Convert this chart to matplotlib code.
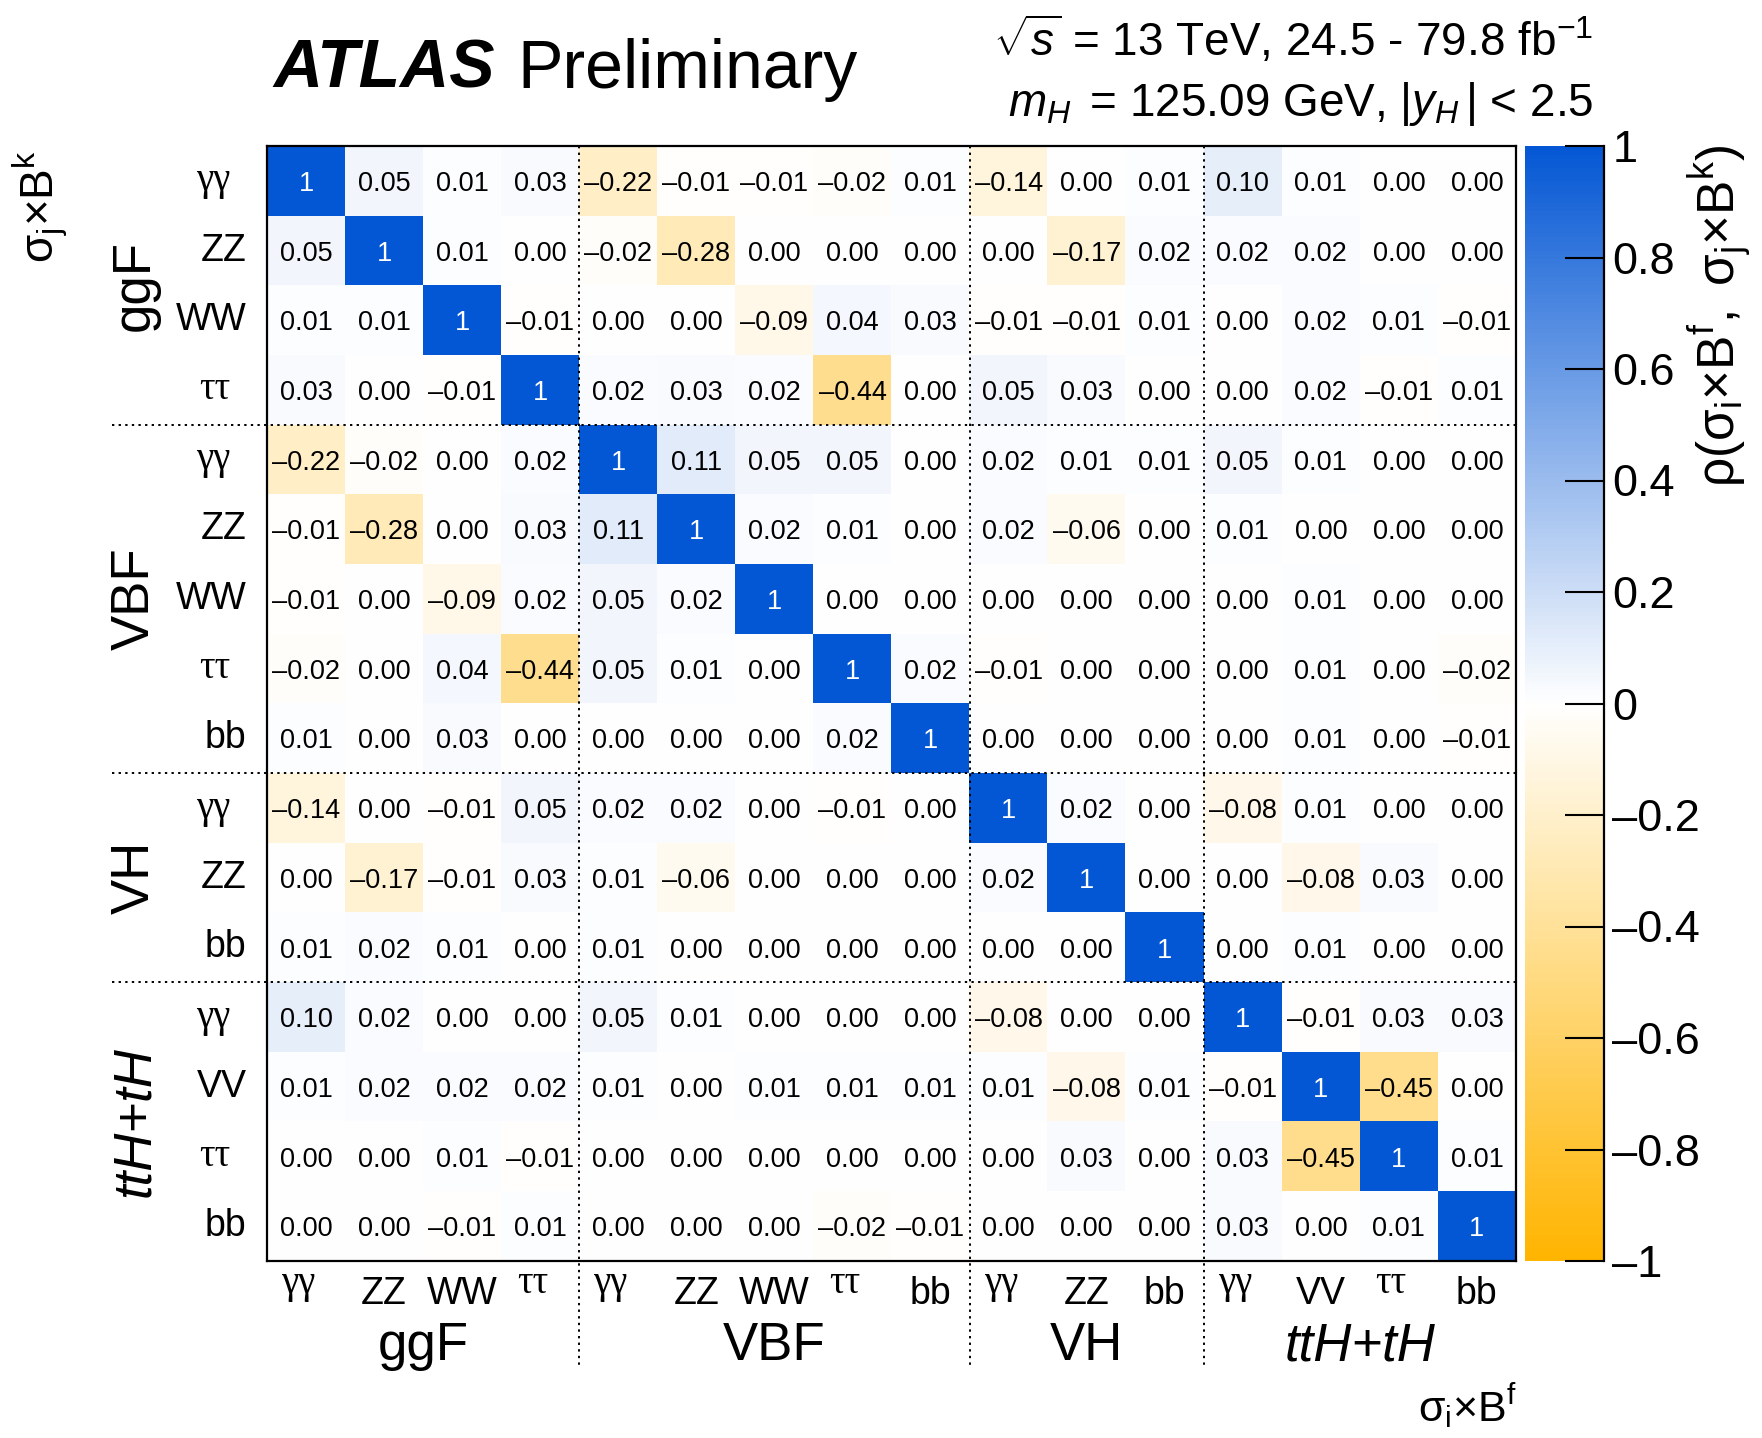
import matplotlib
matplotlib.use("Agg")
import matplotlib.pyplot as plt
import numpy as np
from matplotlib.colors import LinearSegmentedColormap, Normalize
from matplotlib.ticker import FuncFormatter

plt.rcParams["font.family"] = ["Liberation Sans", "DejaVu Sans"]
plt.rcParams["mathtext.fontset"] = "custom"
plt.rcParams["mathtext.rm"] = "Liberation Sans"
plt.rcParams["mathtext.it"] = "Liberation Sans:italic"
plt.rcParams["mathtext.bf"] = "Liberation Sans:bold"
plt.rcParams["mathtext.sf"] = "Liberation Sans"

# Production modes and decay channels (rows = columns)
groups = ["ggF", "VBF", "VH", "ttH+tH"]
ggf_channels = ["γγ", "ZZ", "WW", "ττ"]
vbf_channels = ["γγ", "ZZ", "WW", "ττ", "bb"]
vh_channels = ["γγ", "ZZ", "bb"]
tth_channels = ["γγ", "VV", "ττ", "bb"]
channels = [ggf_channels, vbf_channels, vh_channels, tth_channels]
labels = [c for g in channels for c in g]

# Correlation coefficients rho(sigma_i x B^f, sigma_j x B^k)
corr = np.array([
    [1, 0.05, 0.01, 0.03, -0.22, -0.01, -0.01, -0.02, 0.01, -0.14, 0.00, 0.01, 0.10, 0.01, 0.00, 0.00],
    [0.05, 1, 0.01, 0.00, -0.02, -0.28, 0.00, 0.00, 0.00, 0.00, -0.17, 0.02, 0.02, 0.02, 0.00, 0.00],
    [0.01, 0.01, 1, -0.01, 0.00, 0.00, -0.09, 0.04, 0.03, -0.01, -0.01, 0.01, 0.00, 0.02, 0.01, -0.01],
    [0.03, 0.00, -0.01, 1, 0.02, 0.03, 0.02, -0.44, 0.00, 0.05, 0.03, 0.00, 0.00, 0.02, -0.01, 0.01],
    [-0.22, -0.02, 0.00, 0.02, 1, 0.11, 0.05, 0.05, 0.00, 0.02, 0.01, 0.01, 0.05, 0.01, 0.00, 0.00],
    [-0.01, -0.28, 0.00, 0.03, 0.11, 1, 0.02, 0.01, 0.00, 0.02, -0.06, 0.00, 0.01, 0.00, 0.00, 0.00],
    [-0.01, 0.00, -0.09, 0.02, 0.05, 0.02, 1, 0.00, 0.00, 0.00, 0.00, 0.00, 0.00, 0.01, 0.00, 0.00],
    [-0.02, 0.00, 0.04, -0.44, 0.05, 0.01, 0.00, 1, 0.02, -0.01, 0.00, 0.00, 0.00, 0.01, 0.00, -0.02],
    [0.01, 0.00, 0.03, 0.00, 0.00, 0.00, 0.00, 0.02, 1, 0.00, 0.00, 0.00, 0.00, 0.01, 0.00, -0.01],
    [-0.14, 0.00, -0.01, 0.05, 0.02, 0.02, 0.00, -0.01, 0.00, 1, 0.02, 0.00, -0.08, 0.01, 0.00, 0.00],
    [0.00, -0.17, -0.01, 0.03, 0.01, -0.06, 0.00, 0.00, 0.00, 0.02, 1, 0.00, 0.00, -0.08, 0.03, 0.00],
    [0.01, 0.02, 0.01, 0.00, 0.01, 0.00, 0.00, 0.00, 0.00, 0.00, 0.00, 1, 0.00, 0.01, 0.00, 0.00],
    [0.10, 0.02, 0.00, 0.00, 0.05, 0.01, 0.00, 0.00, 0.00, -0.08, 0.00, 0.00, 1, -0.01, 0.03, 0.03],
    [0.01, 0.02, 0.02, 0.02, 0.01, 0.00, 0.01, 0.01, 0.01, 0.01, -0.08, 0.01, -0.01, 1, -0.45, 0.00],
    [0.00, 0.00, 0.01, -0.01, 0.00, 0.00, 0.00, 0.00, 0.00, 0.00, 0.03, 0.00, 0.03, -0.45, 1, 0.01],
    [0.00, 0.00, -0.01, 0.01, 0.00, 0.00, 0.00, -0.02, -0.01, 0.00, 0.00, 0.00, 0.03, 0.00, 0.01, 1],
])
cbar_ticks = [-1, -0.8, -0.6, -0.4, -0.2, 0, 0.2, 0.4, 0.6, 0.8, 1]

W, H = 1762, 1438
fig = plt.figure(figsize=(W / 100, H / 100), dpi=100)


def fx(px):
    return px / W


def fy(py):
    return 1 - py / H


ax = fig.add_axes([fx(267), fy(1261), (1516 - 267) / W, (1261 - 146) / H])
cax = fig.add_axes([fx(1525), fy(1261), (1604 - 1525) / W, (1261 - 146) / H])

cmap = LinearSegmentedColormap.from_list(
    "orange_white_blue", ["#FFB400", "#FFFFFF", "#0457D4"])
norm = Normalize(vmin=-1, vmax=1)

n = len(labels)
im = ax.imshow(corr, cmap=cmap, norm=norm, aspect="auto", interpolation="nearest")
ax.set_xlim(-0.5, n - 0.5)
ax.set_ylim(n - 0.5, -0.5)
ax.set_xticks([])
ax.set_yticks([])
for s in ax.spines.values():
    s.set_linewidth(1.6)

# Cell values
for i in range(n):
    for j in range(n):
        v = corr[i, j]
        txt = "1" if i == j else f"{v:.2f}".replace("-", "\u2013")
        ax.text(j, i + 0.045, txt, ha="center", va="center", fontsize=19.5,
                color="white" if i == j else "black")

# Channel labels on both axes
greek = {"γγ", "ττ"}
serif = ["Liberation Serif", "DejaVu Serif"]
for k, lab in enumerate(labels):
    if lab in greek:
        ax.text(-0.97, k, lab, ha="right", va="center", fontsize=28,
                family=serif)
        ax.text(k - 0.1, 15.56, lab, ha="center", va="top", fontsize=28,
                family=serif)
    else:
        ax.text(-0.76, k, lab, ha="right", va="center", fontsize=27)
        ax.text(k, 15.71, lab, ha="center", va="top", fontsize=27)

# Group separators and group names
bounds = np.cumsum([len(c) for c in channels])
starts = np.concatenate([[0], bounds[:-1]])
dot = (0, (1.2, 2.2))
for b in bounds[:-1]:
    ax.plot([-2.49, n - 0.5], [b - 0.5, b - 0.5], color="black", lw=1.4,
            ls=dot, clip_on=False)
    ax.plot([b - 0.5, b - 0.5], [-0.5, 16.99], color="black", lw=1.4,
            ls=dot, clip_on=False)

for g, s0, b in zip(groups, starts, bounds):
    c = (s0 + b - 1) / 2
    style = "italic" if g.startswith("tt") else "normal"
    ax.text(c, 16.72, g, ha="center", va="center", fontsize=38,
            fontstyle=style, clip_on=False)
    ax.text(-2.19, c, g, ha="center", va="center", fontsize=38,
            rotation=90, fontstyle=style, clip_on=False)

# Colour scale
cb = fig.colorbar(im, cax=cax, ticks=cbar_ticks)
cb.outline.set_visible(False)
cax.yaxis.set_major_formatter(
    FuncFormatter(lambda v, p: f"{round(v, 1):g}".replace("-", "\u2013")))
cax.tick_params(axis="y", direction="in", length=28, width=1.5,
                labelsize=32.5, pad=6, right=True, left=False)
cax.plot([1, 1], [0, 1], transform=cax.transAxes, color="black", lw=1.6,
         clip_on=False)
fig.text(fx(1720), fy(144),
         r"$\mathrm{\rho(\sigma_{i}{\times}B^{f},\ \sigma_{j}{\times}B^{k})}$",
         rotation=90, ha="center", va="top", fontsize=37)

# Axis titles
fig.text(fx(40), fy(150), r"$\mathrm{\sigma_{j}{\times}B^{k}}$",
         rotation=90, ha="center", va="top", fontsize=33)
fig.text(fx(1517), fy(1422), r"$\mathrm{\sigma_{i}{\times}B^{f}}$",
         ha="right", va="baseline", fontsize=31)

# Header
t1 = fig.text(fx(273), fy(88), "ATLAS", fontsize=49, fontweight="bold",
              fontstyle="italic", va="baseline", ha="left")
renderer = fig.canvas.get_renderer()
bb = t1.get_window_extent(renderer)
fig.text((bb.x1 + 23) / W, fy(88), "Preliminary", fontsize=49,
         va="baseline", ha="left")
fig.text(fx(1593), fy(56), r"$\sqrt{s}$ = 13 TeV, 24.5 - 79.8 fb$^{-1}$",
         ha="right", va="baseline", fontsize=33)
fig.text(fx(1593), fy(116),
         r"$m_{H}\,$ = 125.09 GeV, |$y_{H}\,$| < 2.5",
         ha="right", va="baseline", fontsize=33)

fig.savefig("out.png", dpi=100)
